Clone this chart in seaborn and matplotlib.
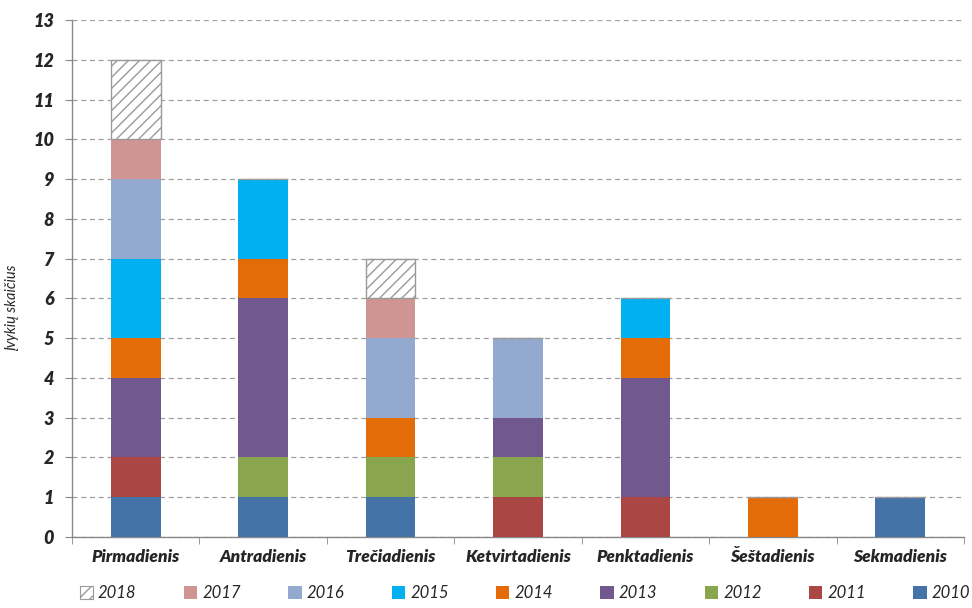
import matplotlib
matplotlib.use("Agg")
import matplotlib.pyplot as plt
from matplotlib.patches import Patch
import seaborn as sns

# Events per weekday, split by year
days = ["Pirmadienis", "Antradienis", "Trečiadienis", "Ketvirtadienis",
        "Penktadienis", "Šeštadienis", "Sekmadienis"]
years = ["2010", "2011", "2012", "2013", "2014", "2015", "2016", "2017", "2018"]
y2010 = [1, 1, 1, 0, 0, 0, 1]
y2011 = [1, 0, 0, 1, 1, 0, 0]
y2012 = [0, 1, 1, 1, 0, 0, 0]
y2013 = [2, 4, 0, 1, 3, 0, 0]
y2014 = [1, 1, 1, 0, 1, 1, 0]
y2015 = [2, 2, 0, 0, 1, 0, 0]
y2016 = [2, 0, 2, 2, 0, 0, 0]
y2017 = [1, 0, 1, 0, 0, 0, 0]
y2018 = [2, 0, 1, 0, 0, 0, 0]
series = [y2010, y2011, y2012, y2013, y2014, y2015, y2016, y2017, y2018]
colors = ["#4572A7", "#AA4643", "#89A54E", "#71588F", "#E36C09",
          "#00B0F0", "#93A9CF", "#D09493", "white"]
y_ticks = list(range(0, 14))
y_label = "Įvykių skaičius"

sns.set_style("white")
plt.rcParams["font.family"] = ["Lato", "DejaVu Sans"]
plt.rcParams["hatch.linewidth"] = 1.0

fig = plt.figure(figsize=(9.72, 6.08), dpi=100)
ax = fig.add_axes([0.0741, 0.1168, 0.9177, 0.8503])

hatch_gray = "#9A9A9A"
bottom = [0] * len(days)
for year, vals, col in zip(years, series, colors):
    n0 = len(ax.patches)
    sns.barplot(x=days, y=vals, order=days, color=col, width=0.39,
                errorbar=None, ax=ax, bottom=bottom, saturation=1)
    new = ax.patches[n0:]
    for p in new:
        p.set_zorder(3)
        if year == "2018":
            p.set_facecolor("white")
            p.set_edgecolor(hatch_gray)
            p.set_linewidth(1.0)
            p.set_hatch("///")
        else:
            p.set_facecolor(col)
            p.set_linewidth(0)
    bottom = [b + v for b, v in zip(bottom, vals)]

ax.set_ylim(0, 13)
ax.set_xlim(-0.5, len(days) - 0.5)
ax.set_yticks(y_ticks)
ax.set_yticklabels([str(t) for t in y_ticks], fontsize=13, fontweight="heavy",
                   fontstyle="italic")
ax.set_xticks(range(len(days)))
ax.set_xticklabels(days, fontsize=12.5, fontweight="heavy", fontstyle="italic")
ax.tick_params(axis="x", length=0, pad=9)
ax.tick_params(axis="y", length=5, color="#888888", pad=8, left=True)

# Category boundary ticks under the x axis
ax.set_xticks([i - 0.5 for i in range(len(days) + 1)], minor=True)
ax.tick_params(axis="x", which="minor", length=5, color="#888888", bottom=True)

ax.yaxis.grid(True, linestyle=(0, (4, 3)), color="#A0A0A0", linewidth=0.9)
ax.set_axisbelow(True)
for side in ("top", "right"):
    ax.spines[side].set_visible(False)
for side in ("left", "bottom"):
    ax.spines[side].set_color("#888888")
    ax.spines[side].set_linewidth(1.0)

ax.set_xlabel("")
ax.set_ylabel(y_label, fontsize=10.5, fontstyle="italic")
ax.yaxis.set_label_coords(-0.0594, 0.443)

handles = []
for year, col in zip(years[::-1], colors[::-1]):
    if year == "2018":
        handles.append(Patch(facecolor="white", edgecolor=hatch_gray,
                             hatch="///", linewidth=0.8, label=year))
    else:
        handles.append(Patch(facecolor=col, edgecolor="none", label=year))
fig.legend(handles=handles, loc="lower left", ncol=9, mode="expand",
           bbox_to_anchor=(0.075, 0.0, 0.93, 0.033), frameon=False,
           prop={"size": 12, "style": "italic"}, handlelength=0.8,
           handleheight=0.8, handletextpad=0.3, borderaxespad=0)

fig.savefig("out.png", dpi=100)
